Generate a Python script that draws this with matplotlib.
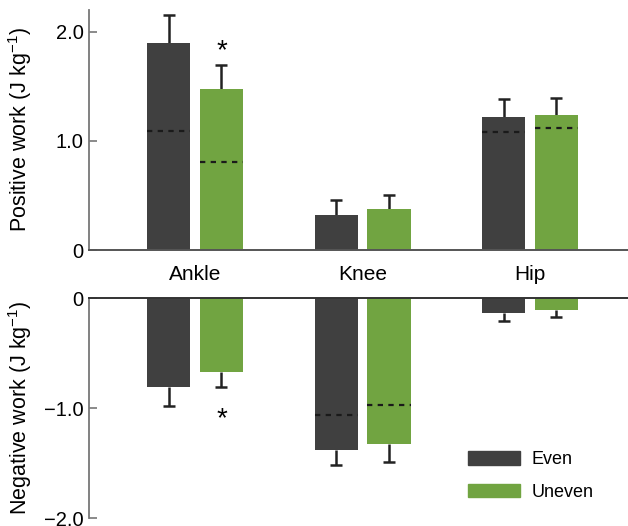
import matplotlib
matplotlib.use("Agg")
import matplotlib.pyplot as plt
from matplotlib.patches import Patch
import numpy as np

plt.rcParams['font.family'] = ['Liberation Sans', 'DejaVu Sans']
plt.rcParams['mathtext.default'] = 'regular'
plt.rcParams['axes.unicode_minus'] = True

joints = ["Ankle", "Knee", "Hip"]

# positive work (mean, SD, dashed reference level)
pos_even = [1.90, 0.32, 1.215]
pos_even_sd = [0.25, 0.14, 0.165]
pos_even_ref = [1.09, None, 1.08]
pos_uneven = [1.48, 0.375, 1.233]
pos_uneven_sd = [0.22, 0.13, 0.16]
pos_uneven_ref = [0.81, None, 1.12]

# negative work
neg_even = [-0.81, -1.385, -0.13]
neg_even_sd = [0.17, 0.13, 0.08]
neg_even_ref = [None, -1.06, None]
neg_uneven = [-0.667, -1.33, -0.106]
neg_uneven_sd = [0.145, 0.16, 0.06]
neg_uneven_ref = [None, -0.97, None]

c_even = "#404040"
c_uneven = "#71a441"
spine_c = "#777777"
x = np.arange(len(joints))
w = 0.257
off = 0.158

fig = plt.figure(figsize=(6.28, 5.26), dpi=100)
ax1 = fig.add_axes([0.1417, 0.5247, 1 - 0.1417, 0.4563])
ax2 = fig.add_axes([0.1417, 0.0152, 1 - 0.1417, 0.4177])


def draw(ax, even, even_sd, even_ref, uneven, uneven_sd, uneven_ref, sign):
    for xs, vals, sds, refs, col in [(x - off, even, even_sd, even_ref, c_even),
                                     (x + off, uneven, uneven_sd, uneven_ref, c_uneven)]:
        vals = np.asarray(vals)
        ends = vals + sign * np.asarray(sds)
        ax.bar(xs, vals, width=w, color=col, zorder=2)
        # one-sided error bars with a cap at the far end only
        ax.vlines(xs, vals, ends, color="#222222", lw=1.8, zorder=1)
        ax.plot(xs, ends, ls="none", marker="_", ms=9, mew=1.8, color="#222222", zorder=1)
        for xi, r in zip(xs, refs):
            if r is not None:
                ax.plot([xi - w / 2, xi + w / 2], [r, r], color="#1a1a1a",
                        lw=1.6, ls=(0, (2.4, 2.4)), zorder=3)


draw(ax1, pos_even, pos_even_sd, pos_even_ref, pos_uneven, pos_uneven_sd, pos_uneven_ref, 1)
draw(ax2, neg_even, neg_even_sd, neg_even_ref, neg_uneven, neg_uneven_sd, neg_uneven_ref, -1)

for ax in (ax1, ax2):
    ax.set_xlim(-0.633, 2.585)
    ax.spines["right"].set_visible(False)
    ax.spines["left"].set_color(spine_c)
    ax.spines["left"].set_linewidth(1.3)
    ax.tick_params(axis="y", direction="in", length=6, width=1.2, color=spine_c,
                   labelsize=14.5, pad=4)

ax1.set_ylim(0, 2.2)
ax1.set_yticks([0, 1.0, 2.0], ["0", "1.0", "2.0"])
ax1.spines["top"].set_visible(False)
ax1.spines["bottom"].set_color("#555555")
ax1.spines["bottom"].set_linewidth(1.4)
ax1.set_xticks(x, joints)
ax1.tick_params(axis="x", length=0, labelsize=15, pad=11)
ax1.set_ylabel("Positive work (J kg$^{-1}$)", fontsize=15.5)
ax1.yaxis.set_label_coords(-0.102, 0.5)

ax2.set_ylim(-2.0, 0)
ax2.set_yticks([-2.0, -1.0, 0], ["\u22122.0", "\u22121.0", "0"])
ax2.spines["bottom"].set_visible(False)
ax2.spines["top"].set_color("#333333")
ax2.spines["top"].set_linewidth(1.4)
ax2.set_xticks([])
ax2.set_ylabel("Negative work (J kg$^{-1}$)", fontsize=15.5)
ax2.yaxis.set_label_coords(-0.102, 0.5)

# significance marks
ax1.text(x[0] + off, pos_uneven[0] + pos_uneven_sd[0] + 0.0, "*", ha="center",
         va="bottom", fontsize=20)
ax2.text(x[0] + off, neg_uneven[0] - neg_uneven_sd[0] - 0.17, "*", ha="center",
         va="top", fontsize=20)

handles = [Patch(color=c_even, label="Even"), Patch(color=c_uneven, label="Uneven")]
fig.legend(handles=handles, loc="upper left", bbox_to_anchor=(468 / 628, 1 - 451 / 526),
           frameon=False, fontsize=13, handlelength=2.9, handleheight=0.8,
           labelspacing=0.85, borderpad=0, borderaxespad=0, handletextpad=0.6)

fig.savefig("out.png", dpi=100)
